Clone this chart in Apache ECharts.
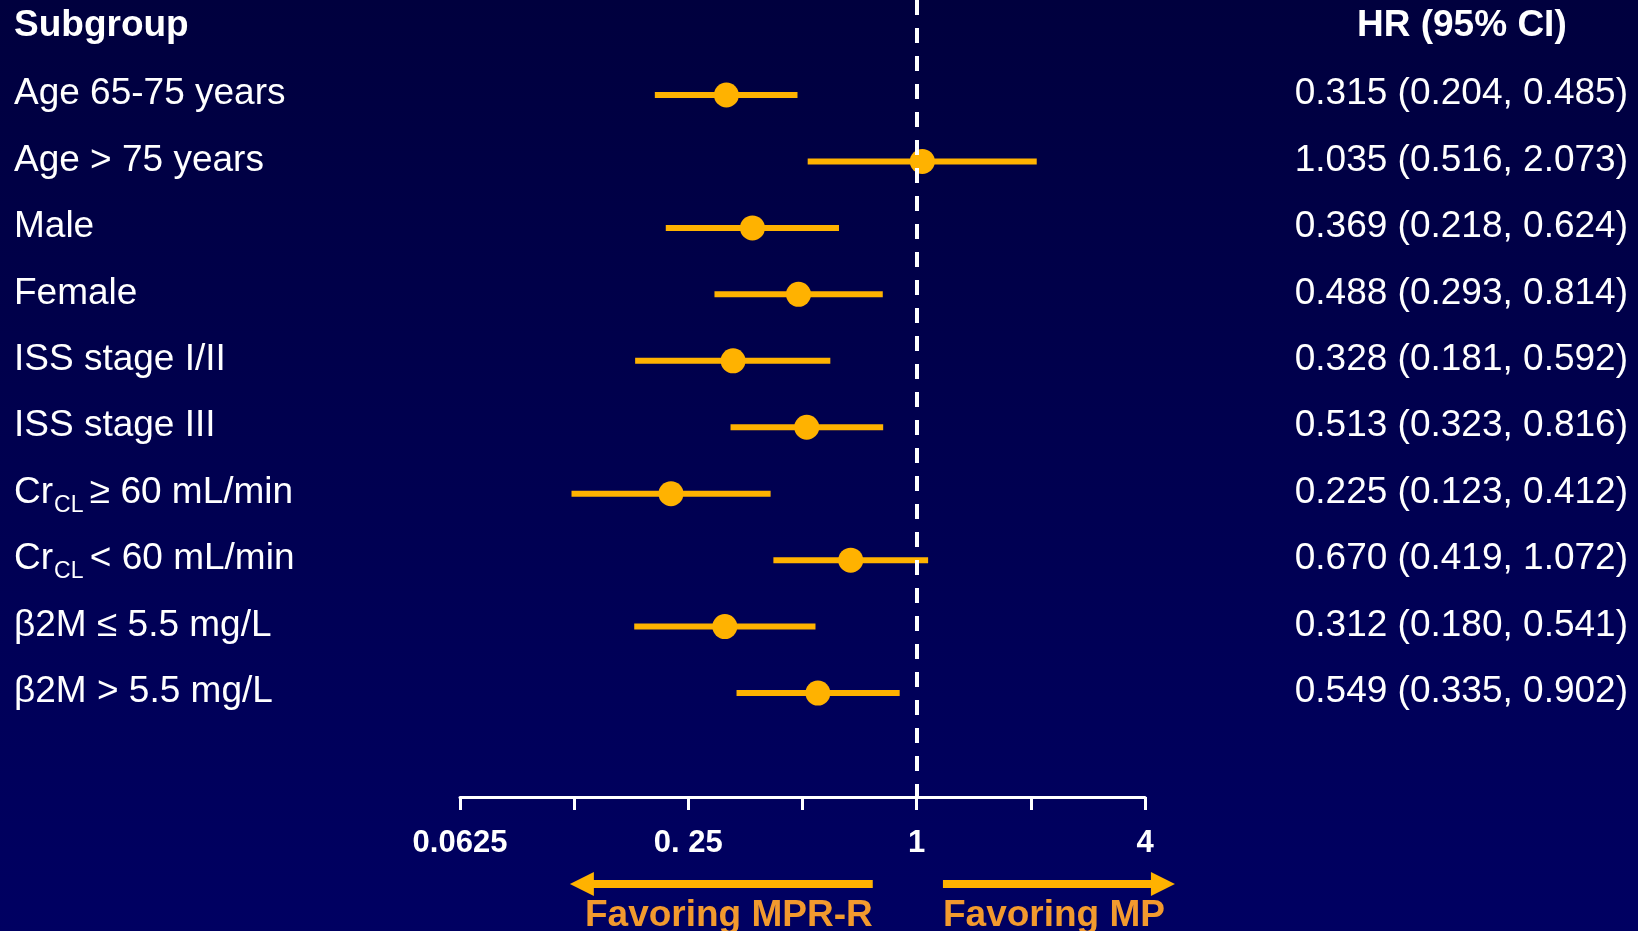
<!DOCTYPE html>
<html>
<head>
<meta charset="utf-8">
<title>Forest plot</title>
<script src="https://cdn.jsdelivr.net/npm/echarts@6/dist/echarts.min.js"></script>
<style>
    html, body { margin: 0; padding: 0; }
    body { background: linear-gradient(#000040, #000064); }
    #forest { width: 1638px; height: 931px; }
</style>
</head>
<body>
<div id="forest"></div>
<script>
// subgroup names ("_CL" becomes a subscript)
var subgroups = ['Age 65-75 years', 'Age > 75 years', 'Male', 'Female', 'ISS stage I/II',
    'ISS stage III', 'Cr_CL ≥ 60 mL/min', 'Cr_CL < 60 mL/min', 'β2M ≤ 5.5 mg/L', 'β2M > 5.5 mg/L'];
var hrValues = [0.315, 1.035, 0.369, 0.488, 0.328, 0.513, 0.225, 0.670, 0.312, 0.549];
var ciLower = [0.204, 0.516, 0.218, 0.293, 0.181, 0.323, 0.123, 0.419, 0.180, 0.335];
var ciUpper = [0.485, 2.073, 0.624, 0.814, 0.592, 0.816, 0.412, 1.072, 0.541, 0.902];

// x axis ticks (log2 scale)
var tickValues = [0.0625, 0.125, 0.25, 0.5, 1, 2, 4];
var tickLabels = ['0.0625', '', '0. 25', '', '1', '', '4'];

// arrow ends under the axis, in HR units
var favorLeft = [0.131, 0.766];
var favorRight = [1.173, 4.46];

var ORANGE = '#FFB200';
var TEXT_ORANGE = '#F29A2E';
var FONT = "'Liberation Sans', Arial, sans-serif";

(function () {
    var chart = echarts.init(document.getElementById('forest'));

    var ciData = [];
    var pointData = [];
    var hrText = [];
    for (var i = 0; i < subgroups.length; i++) {
        ciData.push([ciLower[i], ciUpper[i], i]);
        pointData.push([hrValues[i], i]);
        hrText.push(hrValues[i].toFixed(3) + ' (' + ciLower[i].toFixed(3) + ', ' + ciUpper[i].toFixed(3) + ')');
    }

    function tickLabel(v) {
        for (var k = 0; k < tickValues.length; k++) {
            if (Math.abs(Math.log2(v) - Math.log2(tickValues[k])) < 1e-6) {
                return tickLabels[k];
            }
        }
        return '';
    }

    // one row = 66.45px, first row at y=94, axis at y=797
    var rowStep = 66.45;
    var plotBottom = 797;
    var firstRow = 95;

    var plotLeft = 460;
    var plotRight = 493;

    var logAxis = {
        type: 'log',
        logBase: 2,
        min: tickValues[0],
        max: tickValues[tickValues.length - 1],
        splitNumber: 6
    };

    var textTop = 94 - rowStep / 2;
    var textHeight = rowStep * subgroups.length;

    var option = {
        backgroundColor: {
            type: 'linear', x: 0, y: 0, x2: 0, y2: 1,
            colorStops: [{offset: 0, color: '#00003E'}, {offset: 1, color: '#000062'}]
        },
        animation: false,
        title: [{
            text: 'Subgroup',
            left: 14,
            top: 7,
            padding: 0,
            textStyle: {color: '#fff', fontSize: 37, fontWeight: 'bold', fontFamily: FONT}
        }, {
            text: 'HR (95% CI)',
            left: 1357,
            top: 7,
            padding: 0,
            textStyle: {color: '#fff', fontSize: 37, fontWeight: 'bold', fontFamily: FONT}
        }],
        grid: [
            // 0: forest plot
            {left: plotLeft, right: plotRight, top: 0, height: plotBottom, containLabel: false},
            // 1: arrows under the axis
            {left: plotLeft, right: plotRight, top: 874, height: 20, containLabel: false},
            // 2: subgroup names
            {left: 14, width: 300, top: textTop, height: textHeight, containLabel: false},
            // 3: HR (95% CI) text
            {left: 1200, right: 10, top: textTop, height: textHeight, containLabel: false}
        ],
        xAxis: [
            echarts.util.extend({
                gridIndex: 0,
                position: 'bottom',
                axisLine: {show: true, onZero: false, lineStyle: {color: '#fff', width: 3}},
                axisTick: {show: true, length: 13, lineStyle: {color: '#fff', width: 3}},
                axisLabel: {
                    color: '#fff', fontSize: 31, fontWeight: 'bold', fontFamily: FONT,
                    margin: 31, showMinLabel: true, showMaxLabel: true,
                    formatter: tickLabel
                },
                splitLine: {show: false}
            }, logAxis),
            echarts.util.extend({gridIndex: 1, show: false}, logAxis),
            {gridIndex: 2, type: 'value', show: false},
            {gridIndex: 3, type: 'value', show: false}
        ],
        yAxis: [
            {
                gridIndex: 0, type: 'value', inverse: true, show: false,
                min: -firstRow / rowStep,
                max: (plotBottom - firstRow) / rowStep
            },
            {gridIndex: 1, type: 'value', min: 0, max: 1, show: false},
            {
                gridIndex: 2, type: 'category', inverse: true, data: subgroups,
                axisLine: {show: false}, axisTick: {show: false}, splitLine: {show: false},
                axisLabel: {
                    align: 'left', margin: 0, color: '#fff', fontSize: 37, fontFamily: FONT,
                    formatter: function (v) {
                        return v.replace(/_(\w+)\s?/, '{sub|$1 }');
                    },
                    rich: {
                        sub: {
                            color: '#fff', fontSize: 23, fontFamily: FONT,
                            verticalAlign: 'bottom', padding: [25, 0, 0, 1]
                        }
                    }
                }
            },
            {
                gridIndex: 3, type: 'category', inverse: true, position: 'right', data: hrText,
                axisLine: {show: false}, axisTick: {show: false}, splitLine: {show: false},
                axisLabel: {align: 'right', margin: 0, color: '#fff', fontSize: 37, fontFamily: FONT}
            }
        ],
        series: [
            {
                // confidence intervals + the line of no effect
                type: 'custom',
                xAxisIndex: 0,
                yAxisIndex: 0,
                data: ciData,
                encode: {x: [0, 1], y: 2},
                renderItem: function (params, api) {
                    var lo = api.coord([api.value(0), api.value(2)]);
                    var hi = api.coord([api.value(1), api.value(2)]);
                    return {
                        type: 'line',
                        shape: {x1: lo[0], y1: lo[1], x2: hi[0], y2: hi[1]},
                        style: {stroke: ORANGE, lineWidth: 6}
                    };
                },
                z: 2,
                markLine: {
                    silent: true,
                    symbol: ['none', 'none'],
                    label: {show: false},
                    lineStyle: {color: '#fff', width: 4, type: [15, 13]},
                    data: [{xAxis: 1}]
                }
            },
            {
                type: 'scatter',
                xAxisIndex: 0,
                yAxisIndex: 0,
                data: pointData,
                symbol: 'circle',
                symbolSize: 25,
                itemStyle: {color: ORANGE, opacity: 1},
                z: 3
            },
            {
                type: 'lines',
                coordinateSystem: 'cartesian2d',
                xAxisIndex: 1,
                yAxisIndex: 1,
                clip: false,
                symbol: ['triangle', 'none'],
                symbolSize: 24,
                lineStyle: {color: ORANGE, width: 8, opacity: 1, curveness: 0},
                label: {
                    show: true, position: 'insideEndBottom', distance: [0, 13],
                    formatter: 'Favoring MPR-R',
                    color: TEXT_ORANGE, fontSize: 37, fontWeight: 'bold', fontFamily: FONT
                },
                data: [{coords: [[favorLeft[0], 0.5], [favorLeft[1], 0.5]]}]
            },
            {
                type: 'lines',
                coordinateSystem: 'cartesian2d',
                xAxisIndex: 1,
                yAxisIndex: 1,
                clip: false,
                symbol: ['none', 'triangle'],
                symbolSize: 24,
                lineStyle: {color: ORANGE, width: 8, opacity: 1, curveness: 0},
                label: {
                    show: true, position: 'insideStartBottom', distance: [0, 13],
                    formatter: 'Favoring MP',
                    color: TEXT_ORANGE, fontSize: 37, fontWeight: 'bold', fontFamily: FONT
                },
                data: [{coords: [[favorRight[0], 0.5], [favorRight[1], 0.5]]}]
            }
        ]
    };

    chart.setOption(option);
})();
</script>
</body>
</html>
